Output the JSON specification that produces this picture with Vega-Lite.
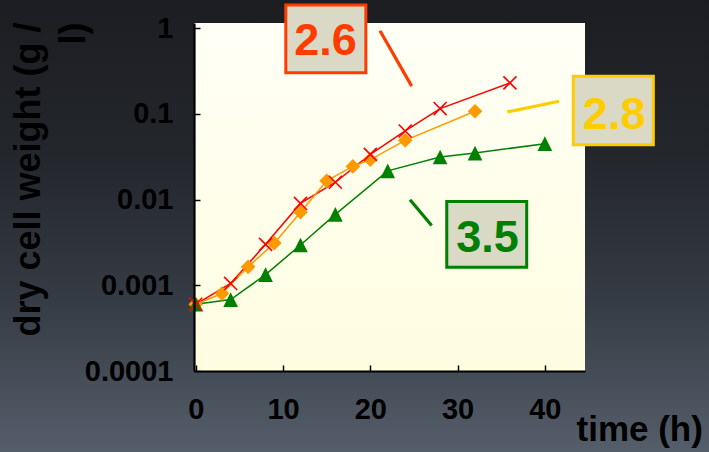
{
  "$schema": "https://vega.github.io/schema/vega-lite/v6.json",
  "width": 391,
  "height": 348,
  "autosize": "none",
  "padding": {"left": 194, "top": 23, "right": 124, "bottom": 81},
  "background": "#2a2e35",
  "config": {
    "view": {"stroke": null, "fill": null},
    "font": "Liberation Sans",
    "axis": {
      "grid": false,
      "domainColor": "#000000",
      "domainWidth": 2.2,
      "tickColor": "#000000",
      "tickWidth": 1.5,
      "tickSize": -6,
      "labelFlush": false,
      "labelFont": "Liberation Sans",
      "labelFontWeight": "bold",
      "labelFontSize": 29,
      "labelColor": "#000000",
      "titleFont": "Liberation Sans",
      "titleFontWeight": "bold",
      "titleColor": "#000000"
    }
  },
  "datasets": {
    "growth": [
      {"series": "2.6", "t": 0, "dcw": 0.0006},
      {"series": "2.6", "t": 4, "dcw": 0.00105},
      {"series": "2.6", "t": 8, "dcw": 0.003},
      {"series": "2.6", "t": 12, "dcw": 0.009},
      {"series": "2.6", "t": 16, "dcw": 0.0159},
      {"series": "2.6", "t": 20, "dcw": 0.0336},
      {"series": "2.6", "t": 24, "dcw": 0.063},
      {"series": "2.6", "t": 28, "dcw": 0.115},
      {"series": "2.6", "t": 36, "dcw": 0.229},
      {"series": "2.8", "t": 0, "dcw": 0.0006},
      {"series": "2.8", "t": 3, "dcw": 0.0008},
      {"series": "2.8", "t": 6, "dcw": 0.00164},
      {"series": "2.8", "t": 9, "dcw": 0.0031},
      {"series": "2.8", "t": 12, "dcw": 0.0071},
      {"series": "2.8", "t": 15, "dcw": 0.0165},
      {"series": "2.8", "t": 18, "dcw": 0.0243},
      {"series": "2.8", "t": 20, "dcw": 0.0292},
      {"series": "2.8", "t": 24, "dcw": 0.049},
      {"series": "2.8", "t": 32, "dcw": 0.107},
      {"series": "3.5", "t": 0, "dcw": 0.0006},
      {"series": "3.5", "t": 4, "dcw": 0.00068},
      {"series": "3.5", "t": 8, "dcw": 0.00133},
      {"series": "3.5", "t": 12, "dcw": 0.00295},
      {"series": "3.5", "t": 16, "dcw": 0.0067},
      {"series": "3.5", "t": 22, "dcw": 0.0216},
      {"series": "3.5", "t": 28, "dcw": 0.0313},
      {"series": "3.5", "t": 32, "dcw": 0.0348},
      {"series": "3.5", "t": 40, "dcw": 0.0448}
    ],
    "notes": [
      {"label": "2.6", "bx1": 10.32, "bx2": 19.49, "by1": 1.858, "by2": 0.3, "tx": 14.87, "ty": 0.483, "lx1": 21.11, "ly1": 0.93, "lx2": 24.74, "ly2": 0.21},
      {"label": "2.8", "bx1": 43.26, "bx2": 52.43, "by1": 0.2745, "by2": 0.0436, "tx": 47.94, "ty": 0.0671, "lx1": 35.7, "ly1": 0.105, "lx2": 41.62, "ly2": 0.14},
      {"label": "3.5", "bx1": 28.76, "bx2": 37.92, "by1": 0.00948, "by2": 0.00162, "tx": 33.43, "ty": 0.00242, "lx1": 24.55, "ly1": 0.00991, "lx2": 27.03, "ly2": 0.00497}
    ]
  },
  "resolve": {"scale": {"color": "independent", "stroke": "independent"}},
  "layer": [
    {
      "description": "night-sky backdrop behind the whole figure",
      "data": {"values": [{}]},
      "mark": {
        "type": "rect",
        "fill": {
          "gradient": "linear", "x1": 0, "y1": 0, "x2": 0, "y2": 1,
          "stops": [
            {"offset": 0.2, "color": "#1b1d21"},
            {"offset": 0.43, "color": "#23262b"},
            {"offset": 0.65, "color": "#363c45"},
            {"offset": 0.88, "color": "#56606c"}
          ]
        }
      },
      "encoding": {
        "x": {"datum": -40, "type": "quantitative", "scale": {"domain": [-0.2, 44.6], "nice": false, "zero": false}},
        "x2": {"datum": 70},
        "y": {"datum": 0.000001, "type": "quantitative", "scale": {"type": "log", "domain": [0.0001, 1.144], "nice": false}},
        "y2": {"datum": 100}
      }
    },
    {
      "description": "plot area panel",
      "data": {"values": [{}]},
      "mark": {
        "type": "rect",
        "fill": {
          "gradient": "linear", "x1": 0, "y1": 0, "x2": 0, "y2": 1,
          "stops": [
            {"offset": 0, "color": "#fffff6"},
            {"offset": 1, "color": "#fefde0"}
          ]
        }
      },
      "encoding": {
        "x": {"datum": -0.2, "type": "quantitative", "scale": {"domain": [-0.2, 44.6], "nice": false, "zero": false}},
        "x2": {"datum": 44.6},
        "y": {"datum": 0.0001, "type": "quantitative", "scale": {"type": "log", "domain": [0.0001, 1.144], "nice": false}},
        "y2": {"datum": 1.144}
      }
    },
    {
      "data": {"name": "growth"},
      "mark": {"type": "line", "strokeWidth": 1.5},
      "encoding": {
        "x": {
          "field": "t", "type": "quantitative",
          "scale": {"domain": [-0.2, 44.6], "nice": false, "zero": false},
          "axis": {
            "zindex": 1,
            "values": [0, 10, 20, 30, 40],
            "labelPadding": 30,
            "title": "time (h)",
            "titleFontSize": 35,
            "titleAlign": "left",
            "titleBaseline": "alphabetic",
            "titleAngle": 0,
            "titleX": 382,
            "titleY": 69
          }
        },
        "y": {
          "field": "dcw", "type": "quantitative",
          "scale": {"type": "log", "domain": [0.0001, 1.144], "nice": false},
          "axis": {
            "zindex": 1,
            "values": [0.0001, 0.001, 0.01, 0.1, 1],
            "format": "~g",
            "labelPadding": 27,
            "title": ["dry cell weight (g /", "l)"],
            "titleFontSize": 36,
            "titleLineHeight": 45,
            "titleAngle": 270,
            "titleAlign": "right",
            "titleBaseline": "top",
            "titleX": -183,
            "titleY": -1
          }
        },
        "color": {"field": "series", "type": "nominal", "scale": {"domain": ["2.6", "2.8", "3.5"], "range": ["#ff0000", "#ff9900", "#008000"]}, "legend": null}
      }
    },
    {
      "data": {"name": "growth"},
      "transform": [{"filter": "datum.series !== '2.6'"}],
      "mark": {"type": "point", "filled": true, "opacity": 1, "size": 215},
      "encoding": {
        "x": {"field": "t", "type": "quantitative", "scale": {"domain": [-0.2, 44.6], "nice": false, "zero": false}},
        "y": {"field": "dcw", "type": "quantitative", "scale": {"type": "log", "domain": [0.0001, 1.144], "nice": false}},
        "shape": {"field": "series", "type": "nominal", "scale": {"domain": ["2.8", "3.5"], "range": ["diamond", "M0,-1L1,1L-1,1Z"]}, "legend": null},
        "color": {"field": "series", "type": "nominal", "scale": {"domain": ["2.6", "2.8", "3.5"], "range": ["#ff0000", "#ff9900", "#008000"]}, "legend": null}
      }
    },
    {
      "data": {"name": "growth"},
      "transform": [{"filter": "datum.series === '2.6'"}],
      "mark": {"type": "point", "filled": false, "opacity": 1, "size": 170, "strokeWidth": 1.6, "shape": "M-1,-1L1,1M-1,1L1,-1"},
      "encoding": {
        "x": {"field": "t", "type": "quantitative", "scale": {"domain": [-0.2, 44.6], "nice": false, "zero": false}},
        "y": {"field": "dcw", "type": "quantitative", "scale": {"type": "log", "domain": [0.0001, 1.144], "nice": false}},
        "color": {"field": "series", "type": "nominal", "scale": {"domain": ["2.6", "2.8", "3.5"], "range": ["#ff0000", "#ff9900", "#008000"]}, "legend": null}
      }
    },
    {
      "data": {"name": "notes"},
      "mark": {"type": "rule", "strokeWidth": 3.2},
      "encoding": {
        "x": {"field": "lx1", "type": "quantitative", "scale": {"domain": [-0.2, 44.6], "nice": false, "zero": false}},
        "x2": {"field": "lx2"},
        "y": {"field": "ly1", "type": "quantitative", "scale": {"type": "log", "domain": [0.0001, 1.144], "nice": false}},
        "y2": {"field": "ly2"},
        "color": {"field": "label", "type": "nominal", "scale": {"domain": ["2.6", "2.8", "3.5"], "range": ["#ff3c00", "#ffcc00", "#008000"]}, "legend": null}
      }
    },
    {
      "data": {"name": "notes"},
      "mark": {"type": "rect", "fill": "#d9d9c5", "strokeWidth": 3},
      "encoding": {
        "x": {"field": "bx1", "type": "quantitative", "scale": {"domain": [-0.2, 44.6], "nice": false, "zero": false}},
        "x2": {"field": "bx2"},
        "y": {"field": "by1", "type": "quantitative", "scale": {"type": "log", "domain": [0.0001, 1.144], "nice": false}},
        "y2": {"field": "by2"},
        "stroke": {"field": "label", "type": "nominal", "scale": {"domain": ["2.6", "2.8", "3.5"], "range": ["#ff3c00", "#ffcc00", "#008000"]}, "legend": null}
      }
    },
    {
      "data": {"name": "notes"},
      "mark": {"type": "text", "font": "Liberation Sans", "fontWeight": "bold", "fontSize": 45, "align": "center", "baseline": "alphabetic"},
      "encoding": {
        "x": {"field": "tx", "type": "quantitative", "scale": {"domain": [-0.2, 44.6], "nice": false, "zero": false}},
        "y": {"field": "ty", "type": "quantitative", "scale": {"type": "log", "domain": [0.0001, 1.144], "nice": false}},
        "text": {"field": "label"},
        "color": {"field": "label", "type": "nominal", "scale": {"domain": ["2.6", "2.8", "3.5"], "range": ["#ff3c00", "#ffcc00", "#008000"]}, "legend": null}
      }
    }
  ]
}
